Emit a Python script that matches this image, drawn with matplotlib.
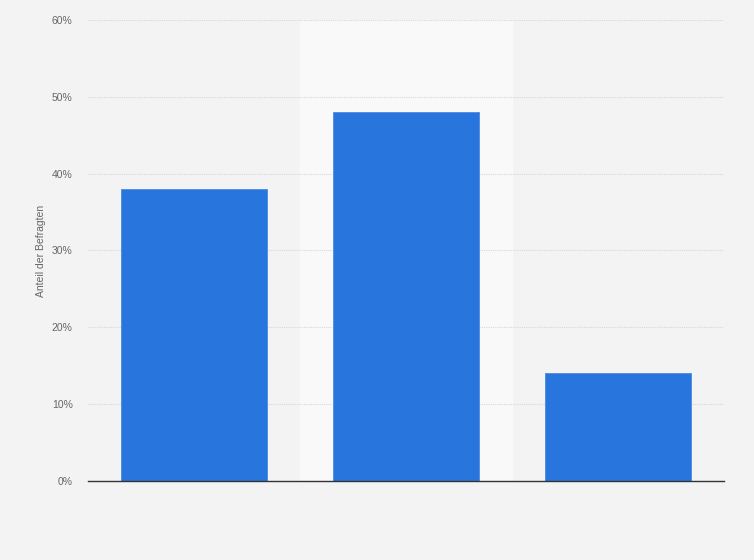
import matplotlib.pyplot as plt
from matplotlib.ticker import FuncFormatter

plt.rcParams['font.family'] = ['Liberation Sans', 'DejaVu Sans']

categories = ['A', 'B', 'C']
values = [38, 48, 14]
y_ticks = [0, 10, 20, 30, 40, 50, 60]
highlight = 1

fig = plt.figure(figsize=(7.54, 5.6), dpi=100)
fig.patch.set_facecolor('#f3f3f3')
ax = fig.add_axes([0.1167, 0.1411, 0.8435, 0.8232])
ax.set_facecolor('#f3f3f3')

x = list(range(len(categories)))
ax.axvspan(highlight - 0.5, highlight + 0.5, color='#f9f9f9', zorder=0)
ax.bar(x, values, width=0.69, color='#2876dd', edgecolor='#4a8ae6', linewidth=0.6, zorder=3)

ax.set_xlim(-0.5, len(categories) - 0.5)
ax.set_ylim(0, 60)
ax.set_yticks(y_ticks)
ax.yaxis.set_major_formatter(FuncFormatter(lambda v, p: f'{v:.0f}%'))
ax.set_xticks([])
ax.grid(axis='y', linestyle=(0, (1, 1)), color='#d8d8d8', linewidth=0.8, zorder=1)
ax.tick_params(axis='y', length=0, pad=11, labelsize=7.5, labelcolor='#666666')
for s in ['top', 'right', 'left']:
    ax.spines[s].set_visible(False)
ax.spines['bottom'].set_color('#333333')
ax.spines['bottom'].set_linewidth(1.0)
ax.spines['bottom'].set_zorder(4)
ax.set_ylabel('Anteil der Befragten', fontsize=7.5, color='#666666', labelpad=4)

fig.savefig('out.png', dpi=100, facecolor=fig.get_facecolor())
